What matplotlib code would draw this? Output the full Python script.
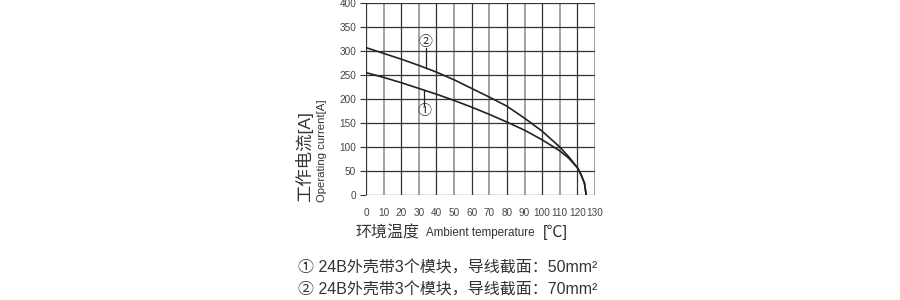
import matplotlib.pyplot as plt
import numpy as np

plt.rcParams['font.family'] = ['Liberation Sans', 'Noto Sans CJK SC', 'DejaVu Sans']

# ambient temperature [°C] and operating current [A]
temp = [0, 10, 20, 30, 40, 50, 60, 70, 80, 90, 100, 110, 115, 120, 122, 124, 125]
curve1 = [255, 245, 234, 222, 210, 197, 183, 168, 152, 135, 115, 92, 77, 57, 43, 25, 0]
curve2 = [307, 295, 283, 270, 256, 240, 222, 204, 185, 160, 133, 100, 80, 57, 43, 25, 0]

xticks = list(range(0, 131, 10))
yticks = list(range(0, 401, 50))

legend_lines = ["① 24B外壳带3个模块，导线截面：50mm²",
                "② 24B外壳带3个模块，导线截面：70mm²"]

fig = plt.figure(figsize=(9, 3), dpi=100)
ax = fig.add_axes([0.4067, 0.35, 0.2544, 0.64])

for x in xticks:
    if x % 20 == 10:
        ax.axvline(x, color='#a0a0a0', lw=1.4, zorder=1)
    else:
        ax.axvline(x, color='#333333', lw=0.9, zorder=1)
for y in yticks:
    ax.axhline(y, color='#333333', lw=0.9, zorder=1)

ax.plot(temp, curve1, color='#222222', lw=1.2, zorder=3)
ax.plot(temp, curve2, color='#222222', lw=1.2, zorder=3)

# leader lines with circled labels
ax.plot([34, 34], [265, 306], color='#222222', lw=0.9, zorder=3)
ax.text(34, 318, '②', ha='center', va='center', fontsize=10, color='#333333')
ax.plot([33, 33], [219, 188], color='#222222', lw=0.9, zorder=3)
ax.text(33, 175, '①', ha='center', va='center', fontsize=10, color='#333333')

ax.set_xlim(0, 130)
ax.set_ylim(0, 400)
ax.set_xticks(xticks)
ax.set_yticks(yticks)
ax.tick_params(axis='x', length=0, pad=9, labelsize=7.2, labelcolor='#444444')
ax.tick_params(axis='y', length=4, width=0.8, color='#333333', pad=3,
               labelsize=7.2, labelcolor='#444444')
for s in ax.spines.values():
    s.set_visible(False)

# y label: two rotated lines
fig.text(0.338, 0.327, '工作电流[A]', rotation=90, ha='center', va='bottom',
         fontsize=12.5, color='#333333')
fig.text(0.358, 0.327, 'Operating current[A]', rotation=90, ha='center',
         va='bottom', fontsize=8.2, color='#333333')

# x label
fig.text(0.395, 0.225, '环境温度', ha='left', va='center', fontsize=11.5, color='#333333')
fig.text(0.473, 0.222, 'Ambient temperature', ha='left', va='center', fontsize=8.4,
         color='#333333')
fig.text(0.603, 0.225, '[℃]', ha='left', va='center', fontsize=11.5, color='#333333')

# legend
fig.text(0.331, 0.105, legend_lines[0], ha='left', va='center', fontsize=11.5,
         color='#333333')
fig.text(0.331, 0.032, legend_lines[1], ha='left', va='center', fontsize=11.5,
         color='#333333')

fig.savefig('out.png', dpi=100)
